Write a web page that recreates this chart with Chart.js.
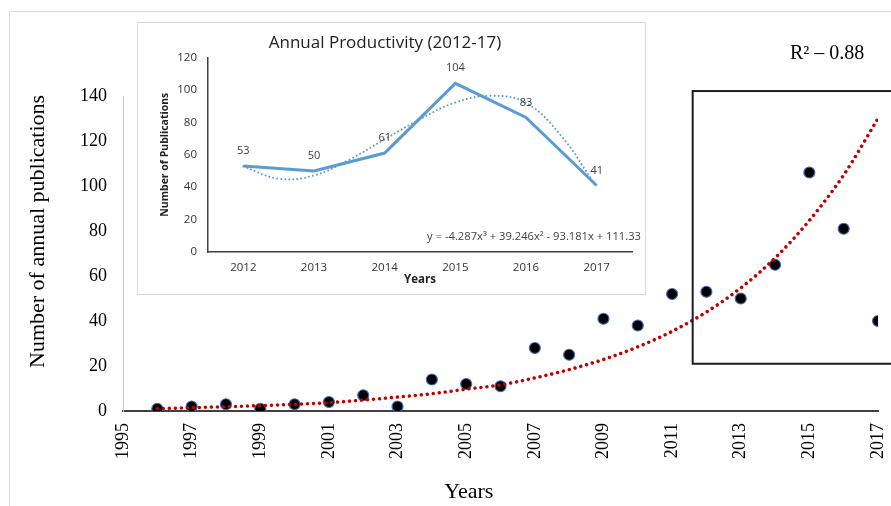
<!DOCTYPE html>
<html>
<head>
<meta charset="utf-8">
<script src="https://cdn.jsdelivr.net/npm/chart.js@4.4.1/dist/chart.umd.min.js"></script>
<style>
  body { margin: 0; background: #fff; }
  #wrap { position: relative; width: 891px; height: 506px; }
  #frame { position: absolute; left: 9px; top: 11px; width: 900px; height: 520px;
           border-left: 1px solid #d9d9d9; border-top: 1px solid #d9d9d9; }
  #main { position: absolute; left: 0; top: 0; }
  #inset { position: absolute; left: 137px; top: 22px; width: 507px; height: 271px;
           border: 1px solid #d9d9d9; background: #fff; }
</style>
</head>
<body>
<div id="wrap">
  <div id="frame"></div>
  <canvas id="main" width="891" height="506"></canvas>
  <div id="inset"><canvas id="small" width="507" height="271"></canvas></div>
</div>
<script>
// main chart: publications per year
const years = [1996, 1997, 1998, 1999, 2000, 2001, 2002, 2003, 2004, 2005, 2006,
               2007, 2008, 2009, 2010, 2011, 2012, 2013, 2014, 2015, 2016, 2017];
const publications = [1, 2, 3, 1, 3, 4, 7, 2, 14, 12, 11, 28, 25, 41, 38, 52, 53, 50, 65, 106, 81, 40];
// trend line
const trend = [1, 1.5, 1.9, 2.4, 3, 3.7, 4.9, 6.2, 7.7, 9.7, 11.6, 14.7, 18.4, 22.9, 28.5,
               35.4, 44, 54.7, 68, 84.7, 104.9, 130];

// inset chart 2012-17
const insetYears = [2012, 2013, 2014, 2015, 2016, 2017];
const insetCounts = [53, 50, 61, 104, 83, 41];
const insetTrendX = [2012, 2012.5, 2013, 2013.5, 2014, 2014.5, 2015, 2015.5, 2016, 2016.5, 2017];
const insetTrendY = [52.8, 45.2, 47.2, 57, 69.5, 81.9, 92.2, 96.3, 92, 71.5, 40];

const serif = 'Liberation Serif';

const mainExtras = {
  id: 'mainExtras',
  afterDraw(chart) {
    const ctx = chart.ctx;
    const xs = chart.scales.x, ys = chart.scales.y;
    const a = chart.chartArea;
    ctx.save();
    // highlight box round 2012-17
    ctx.strokeStyle = '#1e1e1e';
    ctx.lineWidth = 2;
    const x0 = xs.getPixelForValue(2011.6);
    const y0 = ys.getPixelForValue(142.2);
    const y1 = ys.getPixelForValue(21);
    ctx.strokeRect(x0, y0, chart.width + 10 - x0, y1 - y0);
    // R squared
    ctx.fillStyle = '#000';
    ctx.font = '20px "' + serif + '"';
    ctx.textAlign = 'left';
    ctx.textBaseline = 'middle';
    ctx.fillText('R\u00b2 \u2013 0.88', 790, 54);
    // axis titles
    ctx.font = '22px "' + serif + '"';
    ctx.textAlign = 'center';
    ctx.fillText('Years', a.left + (a.right - a.left) * 0.458, 492);
    ctx.translate(38, a.top + (a.bottom - a.top) * 0.43);
    ctx.rotate(-Math.PI / 2);
    ctx.fillText('Number of annual publications', 0, 0);
    ctx.restore();
  }
};

new Chart(document.getElementById('main'), {
  type: 'scatter',
  data: {
    datasets: [{
      data: years.map((y, i) => ({ x: y, y: trend[i] })),
      showLine: true,
      borderColor: '#c00000',
      borderWidth: 3.5,
      borderDash: [0.01, 6],
      borderCapStyle: 'round',
      cubicInterpolationMode: 'monotone',
      pointRadius: 0,
      order: 0
    }, {
      data: years.map((y, i) => ({ x: y, y: publications[i] })),
      backgroundColor: '#000',
      borderColor: '#3f6fbf',
      borderWidth: 1.2,
      pointRadius: 5.5,
      order: 1
    }]
  },
  options: {
    responsive: false,
    animation: false,
    layout: { padding: { top: 96, right: 13, left: 0, bottom: 0 } },
    plugins: { legend: { display: false }, tooltip: { enabled: false } },
    scales: {
      x: {
        type: 'linear', min: 1995, max: 2017,
        grid: { display: false, drawTicks: false },
        border: { color: '#404040', width: 2 },
        ticks: { stepSize: 2, maxRotation: 90, minRotation: 90, padding: 12, color: '#000',
                 font: { family: serif, size: 18 }, callback: v => String(v) },
        afterFit: s => { s.height = 95; s.paddingRight = 0; s.paddingLeft = 0; }
      },
      y: {
        min: 0, max: 140,
        grid: { display: false, drawTicks: false },
        border: { color: '#c8c8c8', width: 1 },
        ticks: { stepSize: 20, padding: 16, color: '#000', font: { family: serif, size: 18 } },
        afterFit: s => { s.width = 123; }
      }
    }
  },
  plugins: [mainExtras]
});

const sans = 'Open Sans';

const insetExtras = {
  id: 'insetExtras',
  afterDatasetsDraw(chart) {
    const ctx = chart.ctx;
    const meta = chart.getDatasetMeta(0);
    ctx.save();
    ctx.fillStyle = '#404040';
    ctx.font = '11px "' + sans + '"';
    ctx.textAlign = 'center';
    ctx.textBaseline = 'middle';
    meta.data.forEach((pt, i) => ctx.fillText(String(insetCounts[i]), pt.x, pt.y - 15));
    ctx.font = '11.2px "' + sans + '"';
    ctx.textAlign = 'right';
    ctx.fillText('y = -4.287x\u00b3 + 39.246x\u00b2 - 93.181x + 111.33',
                 chart.chartArea.right + 9, chart.chartArea.bottom - 15);
    ctx.restore();
  }
};

new Chart(document.getElementById('small'), {
  type: 'line',
  data: {
    datasets: [{
      data: insetYears.map((y, i) => ({ x: y, y: insetCounts[i] })),
      borderColor: '#5b9bd5',
      borderWidth: 3,
      pointRadius: 0,
      tension: 0
    }, {
      data: insetTrendX.map((y, i) => ({ x: y, y: insetTrendY[i] })),
      borderColor: '#5b9bd5',
      borderWidth: 2,
      borderDash: [0.01, 4],
      borderCapStyle: 'round',
      pointRadius: 0,
      tension: 0.4
    }]
  },
  options: {
    responsive: false,
    animation: false,
    layout: { padding: { top: 0, right: 13, left: 0, bottom: 0 } },
    plugins: {
      legend: { display: false },
      tooltip: { enabled: false },
      title: {
        display: true, text: 'Annual Productivity (2012-17)', color: '#222',
        font: { family: sans, size: 17, weight: 'normal' },
        padding: { top: 10, bottom: 4 }
      }
    },
    scales: {
      x: {
        type: 'linear', min: 2011.5, max: 2017.5,
        afterBuildTicks: s => { s.ticks = insetYears.map(v => ({ value: v })); },
        grid: { display: false, drawTicks: false },
        border: { color: '#404040', width: 1.5 },
        ticks: { padding: 9, color: '#333', font: { family: sans, size: 11.5 }, callback: v => String(v) },
        title: { display: true, text: 'Years', color: '#222',
                 font: { family: sans, size: 11.5, weight: 'bold' }, padding: { top: 0, bottom: 7 } },
        afterFit: s => { s.height = 42; s.paddingRight = 0; s.paddingLeft = 0; }
      },
      y: {
        min: 0, max: 120,
        grid: { display: false, drawTicks: false },
        border: { color: '#404040', width: 1.5 },
        ticks: { stepSize: 20, padding: 11, color: '#333', font: { family: sans, size: 11.5 } },
        title: { display: true, text: 'Number of Publications', color: '#222',
                 font: { family: sans, size: 10.5, weight: 'bold' }, padding: { top: 21, bottom: 0 } },
        afterFit: s => { s.width = 70; }
      }
    }
  },
  plugins: [insetExtras]
});
</script>
</body>
</html>
